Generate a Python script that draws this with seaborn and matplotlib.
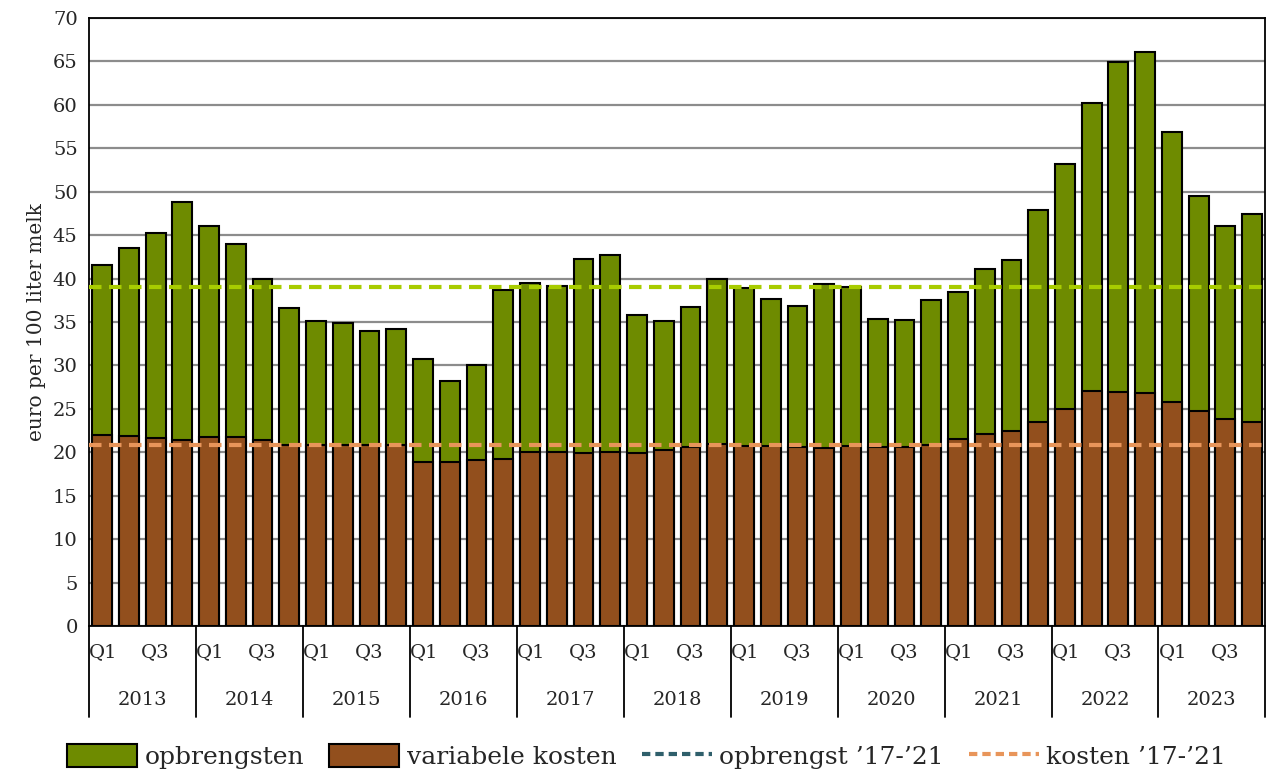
import numpy as np
import pandas as pd
import matplotlib
matplotlib.use("Agg")
import matplotlib.pyplot as plt
from matplotlib.patches import Patch
from matplotlib.lines import Line2D
import seaborn as sns

# data (euro per 100 liter melk), per kwartaal 2013-2023
years = [str(y) for y in range(2013, 2024)]
quarters = ["Q1", "Q2", "Q3", "Q4"]
opbrengsten = [
    41.6, 43.5, 45.3, 48.8,
    46.0, 44.0, 40.0, 36.6,
    35.1, 34.9, 34.0, 34.2,
    30.7, 28.2, 30.0, 38.7,
    39.5, 39.1, 42.2, 42.7,
    35.8, 35.1, 36.7, 40.0,
    38.9, 37.6, 36.8, 39.4,
    39.0, 35.3, 35.2, 37.5,
    38.4, 41.1, 42.1, 47.9,
    53.2, 60.2, 64.9, 66.1,
    56.9, 49.5, 46.0, 47.4,
]
variabele_kosten = [
    22.0, 21.9, 21.7, 21.4,
    21.8, 21.8, 21.4, 20.8,
    20.8, 20.8, 20.8, 20.8,
    18.9, 18.9, 19.1, 19.2,
    20.1, 20.0, 19.9, 20.0,
    19.9, 20.3, 20.6, 21.0,
    20.7, 20.7, 20.6, 20.5,
    20.7, 20.6, 20.6, 20.9,
    21.5, 22.1, 22.5, 23.5,
    25.0, 27.1, 27.0, 26.8,
    25.8, 24.8, 23.9, 23.5,
]
gem_opbrengst = 39.0   # gemiddelde '17-'21
gem_kosten = 20.8

GREEN = "#6e8b00"
BROWN = "#924f1d"
LINE_GREEN = "#a8cc00"
LINE_ORANGE = "#e8955a"
LEGEND_TEAL = "#2f5f6b"

df = pd.DataFrame({
    "kwartaal": [f"{y} {q}" for y in years for q in quarters],
    "opbrengsten": opbrengsten,
    "kosten": variabele_kosten,
})

sns.set_style("white")
plt.rcParams["font.family"] = ["DejaVu Serif"]

fig = plt.figure(figsize=(12.68, 7.76), dpi=100)
ax = fig.add_axes([0.070, 0.193, 0.928, 0.784])

ax.yaxis.grid(True, color="#8c8c8c", linewidth=1.6, zorder=0)
ax.set_axisbelow(True)

sns.barplot(data=df, x="kwartaal", y="opbrengsten", color=GREEN,
            saturation=1, edgecolor="black", linewidth=1.5, width=0.74, ax=ax)
sns.barplot(data=df, x="kwartaal", y="kosten", color=BROWN,
            saturation=1, edgecolor="black", linewidth=1.5, width=0.74, ax=ax)

ax.axhline(gem_opbrengst, color=LINE_GREEN, linewidth=3, dashes=(3, 1.8), zorder=5)
ax.axhline(gem_kosten, color=LINE_ORANGE, linewidth=3, dashes=(3, 1.8), zorder=5)

ax.set_ylim(0, 70)
ax.set_xlim(-0.5, len(df) - 0.5)
ax.set_yticks(np.arange(0, 71, 5))
ax.tick_params(axis="y", labelsize=14, length=0, pad=8)
ax.set_xticks([])
ax.set_xlabel("")
ax.set_ylabel("euro per 100 liter melk", fontsize=14.5, labelpad=5)
for s in ax.spines.values():
    s.set_color("black")
    s.set_linewidth(1.3)

# two-level category axis
trans = ax.get_xaxis_transform()
for i, y in enumerate(years):
    start = i * 4
    ax.text(start + 0.05, -0.043, "Q1", transform=trans, ha="center", va="center", fontsize=14)
    ax.text(start + 2, -0.043, "Q3", transform=trans, ha="center", va="center", fontsize=14)
    ax.text(start + 1.5, -0.122, y, transform=trans, ha="center", va="center", fontsize=14)
for b in range(len(years) + 1):
    ax.plot([b * 4 - 0.5] * 2, [0, -0.15], transform=trans, color="black",
            linewidth=1.3, clip_on=False)

handles = [
    Patch(facecolor=GREEN, edgecolor="black", linewidth=1.5),
    Patch(facecolor=BROWN, edgecolor="black", linewidth=1.5),
    Line2D([], [], color=LEGEND_TEAL, linewidth=3, dashes=(2, 1.2)),
    Line2D([], [], color=LINE_ORANGE, linewidth=3, dashes=(2, 1.2)),
]
labels = ["opbrengsten", "variabele kosten", "opbrengst \u201917-\u201921", "kosten \u201917-\u201921"]
fig.legend(handles, labels, loc="lower center", bbox_to_anchor=(0.51, -0.02), ncol=4,
           frameon=False, fontsize=18, handlelength=2.8, handleheight=1.0,
           handletextpad=0.3, columnspacing=1.0)

fig.savefig("out.png", dpi=100)
plt.close(fig)
